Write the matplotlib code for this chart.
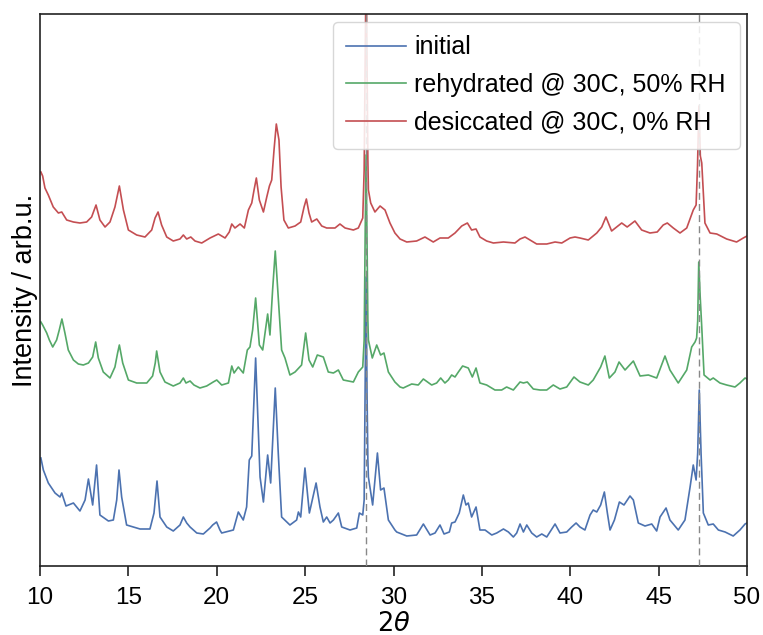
import numpy as np
import matplotlib
matplotlib.use("Agg")
import matplotlib.pyplot as plt

plt.rcParams['font.family'] = ['Liberation Sans', 'DejaVu Sans']
plt.rcParams['mathtext.fontset'] = 'dejavusans'

# ---------------- data (2theta in degrees, intensity in arb. units incl. offsets) -------------
two_theta_initial = [
    10.05, 10.19, 10.47, 10.85, 11.13, 11.23, 11.47, 11.89, 12.26, 12.55, 12.74, 12.98, 13.2, 13.39,
    13.87, 14.15, 14.34, 14.47, 14.62, 14.9, 15.66, 16.22, 16.45, 16.62, 16.79, 17.17, 17.54, 17.92,
    18.11, 18.3, 18.49, 18.87, 19.24, 19.62, 19.77, 19.99, 20.18, 20.28, 20.94, 21.22, 21.5, 21.69,
    21.84, 21.98, 22.2, 22.45, 22.64, 22.88, 23.05, 23.31, 23.48, 23.67, 24.14, 24.52, 24.62, 24.75,
    24.99, 25.24, 25.62, 25.84, 26.03, 26.22, 26.41, 26.6, 26.88, 27.07, 27.54, 27.92, 28.07, 28.26,
    28.34, 28.40, 28.45, 28.50, 28.55, 28.58, 28.82, 29.09, 29.27, 29.46, 29.71, 30.08, 30.18, 30.75,
    31.31, 31.69, 32.07, 32.35, 32.63, 32.86, 33.16, 33.29, 33.48, 33.72, 33.95, 34.1, 34.23, 34.42,
    34.67, 34.89, 35.18, 35.56, 35.84, 36.22, 36.5, 36.78, 36.97, 37.16, 37.35, 37.54, 37.82, 38.1,
    38.39, 38.67, 38.85, 39.14, 39.42, 39.8, 40.08, 40.33, 40.55, 40.83, 41.12, 41.3, 41.5, 41.72,
    41.93, 42.1, 42.25, 42.5, 42.78, 43.04, 43.38, 43.57, 43.85, 44.23, 44.61, 44.89, 45.08, 45.42,
    45.64, 46.11, 46.49, 46.78, 46.96, 47.12, 47.21, 47.3, 47.4, 47.53, 47.81, 48.09, 48.38, 48.76,
    49.22, 49.6, 49.89, 50.0]
intensity_initial = [
    108, 96, 83, 73, 69, 73, 60, 63, 55, 66, 87, 61, 101, 51,
    45, 46, 66, 96, 69, 41, 37, 37, 53, 85, 49, 39, 35, 41,
    49, 43, 39, 33, 32, 38, 41, 44, 36, 33, 36, 54, 46, 59,
    106, 110, 208, 89, 64, 111, 83, 178, 113, 49, 41, 46, 54, 49,
    98, 53, 83, 59, 44, 49, 43, 46, 53, 39, 36, 38, 53, 51,
    66, 186, 289, 176, 106, 89, 61, 113, 76, 78, 46, 36, 34, 30,
    31, 42, 31, 33, 41, 32, 34, 43, 44, 53, 71, 61, 63, 49,
    59, 36, 36, 31, 33, 37, 34, 29, 33, 42, 34, 41, 33, 29,
    32, 29, 34, 42, 33, 34, 39, 43, 39, 36, 51, 56, 54, 61,
    74, 53, 36, 46, 64, 61, 70, 66, 43, 40, 42, 35, 49, 58,
    46, 36, 46, 79, 101, 86, 113, 176, 113, 53, 41, 42, 36, 34,
    30, 36, 42, 43]

two_theta_rehydrated = [
    10.05, 10.15, 10.38, 10.53, 10.72, 10.94, 11.09, 11.24, 11.41, 11.6, 11.89, 12.17, 12.45, 12.74,
    12.98, 13.15, 13.3, 13.58, 13.96, 14.24, 14.39, 14.49, 14.68, 15.0, 15.47, 16.04, 16.37, 16.52,
    16.6, 16.79, 17.07, 17.54, 17.92, 18.11, 18.26, 18.49, 18.71, 19.05, 19.43, 19.8, 20.0, 20.28,
    20.66, 20.85, 20.98, 21.22, 21.5, 21.73, 21.88, 22.03, 22.2, 22.41, 22.6, 22.73, 22.88, 23.01,
    23.16, 23.31, 23.48, 23.67, 23.86, 24.14, 24.43, 24.8, 25.03, 25.22, 25.43, 25.69, 26.03, 26.31,
    26.6, 26.88, 27.16, 27.73, 28.01, 28.26, 28.34, 28.40, 28.45, 28.50, 28.55, 28.58, 28.8, 29.05,
    29.27, 29.46, 29.71, 30.08, 30.37, 30.55, 31.03, 31.4, 31.69, 32.16, 32.44, 32.67, 32.91, 33.1,
    33.29, 33.48, 33.67, 33.91, 34.23, 34.46, 34.67, 34.89, 35.27, 35.74, 36.12, 36.4, 36.78, 37.16,
    37.35, 37.57, 37.91, 38.29, 38.67, 39.04, 39.42, 39.8, 40.21, 40.55, 41.02, 41.3, 41.72, 41.96,
    42.21, 42.53, 42.76, 43.1, 43.57, 43.95, 44.42, 44.89, 45.36, 45.64, 46.11, 46.59, 46.87, 47.06,
    47.15, 47.21, 47.27, 47.35, 47.44, 47.57, 47.91, 48.09, 48.47, 48.85, 49.32, 49.6, 49.89, 50.0]
intensity_rehydrated = [
    244, 241, 233, 226, 219, 226, 236, 247, 233, 216, 206, 202, 201, 203,
    209, 224, 208, 194, 188, 199, 213, 221, 203, 186, 183, 183, 190, 203,
    215, 194, 184, 180, 183, 188, 183, 185, 181, 178, 180, 184, 186, 181,
    183, 200, 193, 199, 193, 216, 219, 236, 268, 221, 216, 233, 252, 231,
    276, 315, 269, 216, 208, 191, 194, 201, 233, 206, 199, 211, 209, 194,
    193, 196, 186, 184, 194, 199, 226, 336, 411, 326, 246, 226, 208, 221,
    211, 213, 194, 184, 179, 178, 182, 181, 187, 181, 183, 188, 183, 186,
    191, 189, 194, 200, 198, 189, 198, 183, 181, 176, 176, 179, 176, 184,
    183, 184, 177, 176, 176, 181, 177, 179, 189, 184, 181, 186, 199, 210,
    188, 194, 204, 196, 205, 190, 191, 188, 210, 196, 183, 196, 219, 224,
    228, 245, 304, 270, 239, 191, 186, 188, 183, 181, 179, 183, 188, 187]

two_theta_desiccated = [
    10.05, 10.15, 10.28, 10.47, 10.75, 11.04, 11.23, 11.51, 11.89, 12.26, 12.64, 12.92, 13.17, 13.39,
    13.68, 13.96, 14.24, 14.49, 14.72, 15.0, 15.47, 15.94, 16.32, 16.51, 16.68, 16.88, 17.17, 17.54,
    17.92, 18.11, 18.3, 18.53, 18.77, 19.15, 19.62, 20.09, 20.47, 20.71, 20.85, 21.03, 21.32, 21.56,
    21.79, 21.98, 22.11, 22.24, 22.41, 22.64, 22.83, 22.98, 23.11, 23.24, 23.37, 23.52, 23.64, 23.8,
    24.05, 24.43, 24.75, 24.94, 25.07, 25.22, 25.37, 25.66, 25.94, 26.22, 26.69, 26.97, 27.26, 27.73,
    28.01, 28.26, 28.34, 28.40, 28.45, 28.50, 28.55, 28.58, 28.71, 28.95, 29.24, 29.52, 29.8, 30.08,
    30.37, 30.75, 31.31, 31.78, 32.25, 32.63, 33.1, 33.48, 33.86, 34.18, 34.42, 34.67, 34.89, 35.27,
    35.65, 36.22, 36.87, 37.16, 37.44, 37.72, 38.1, 38.67, 39.14, 39.52, 39.99, 40.27, 40.55, 41.02,
    41.5, 41.78, 42.02, 42.34, 42.63, 42.91, 43.22, 43.66, 44.04, 44.51, 44.92, 45.26, 45.49, 45.83,
    46.21, 46.59, 46.96, 47.12, 47.20, 47.28, 47.36, 47.44, 47.62, 47.91, 48.29, 48.85, 49.41, 49.79,
    50.0]
intensity_desiccated = [
    394, 390, 378, 371, 359, 353, 354, 346, 344, 343, 344, 349, 361, 346,
    339, 344, 359, 380, 356, 336, 331, 329, 336, 348, 354, 341, 329, 325,
    327, 331, 327, 329, 325, 323, 328, 332, 328, 334, 342, 338, 342, 338,
    356, 363, 376, 388, 366, 354, 369, 380, 386, 416, 442, 426, 379, 346,
    338, 340, 344, 359, 367, 353, 344, 347, 340, 338, 338, 342, 338, 336,
    338, 348, 396, 506, 606, 506, 406, 376, 363, 354, 360, 356, 343, 333,
    327, 324, 325, 329, 324, 328, 328, 333, 340, 343, 336, 337, 329, 325,
    323, 324, 323, 327, 329, 326, 322, 322, 324, 323, 328, 329, 328, 326,
    333, 339, 349, 335, 339, 343, 339, 345, 336, 333, 334, 341, 343, 338,
    333, 338, 356, 361, 400, 460, 410, 403, 343, 333, 332, 327, 324, 328,
    330]

series_labels = ['initial', 'rehydrated @ 30C, 50% RH', 'desiccated @ 30C, 0% RH']
series_colors = ['#4C72B0', '#55A868', '#C44E52']
reference_peaks = [28.44, 47.30]
x_ticks = [10, 15, 20, 25, 30, 35, 40, 45, 50]

# ---------------- plot ----------------
fig = plt.figure(figsize=(7.63, 6.35), dpi=100)
ax = fig.add_axes([40 / 763, 1 - 566 / 635, 707 / 763, 552 / 635])

ax.plot(two_theta_initial, intensity_initial, color=series_colors[0], lw=1.2, label=series_labels[0])
ax.plot(two_theta_rehydrated, intensity_rehydrated, color=series_colors[1], lw=1.2, label=series_labels[1])
ax.plot(two_theta_desiccated, intensity_desiccated, color=series_colors[2], lw=1.2, label=series_labels[2])

for p in reference_peaks:
    ax.axvline(p, color='#888888', ls=(0, (5, 3)), lw=1.0, zorder=3)

ax.set_xlim(10, 50)
ax.set_ylim(0, 552)
ax.set_xticks(x_ticks)
ax.set_yticks([])
ax.tick_params(axis='x', labelsize=17.5, direction='out', length=7, width=1.2, pad=8,
               color='#222222')
for s in ax.spines.values():
    s.set_color('#222222')
    s.set_linewidth(1.2)

ax.set_xlabel(r'$2\theta$', fontsize=18.5, labelpad=2)
ax.set_ylabel('Intensity / arb.u.', fontsize=19.5, labelpad=1.5)

leg = ax.legend(loc='upper right', fontsize=18, handlelength=2.4, handletextpad=0.32,
                labelspacing=0.55, borderpad=0.55, frameon=True, fancybox=True,
                framealpha=0.85, borderaxespad=0.3)
leg.get_frame().set_edgecolor('#d0d0d0')
leg.get_frame().set_linewidth(1.0)

fig.savefig('out.png', dpi=100)
